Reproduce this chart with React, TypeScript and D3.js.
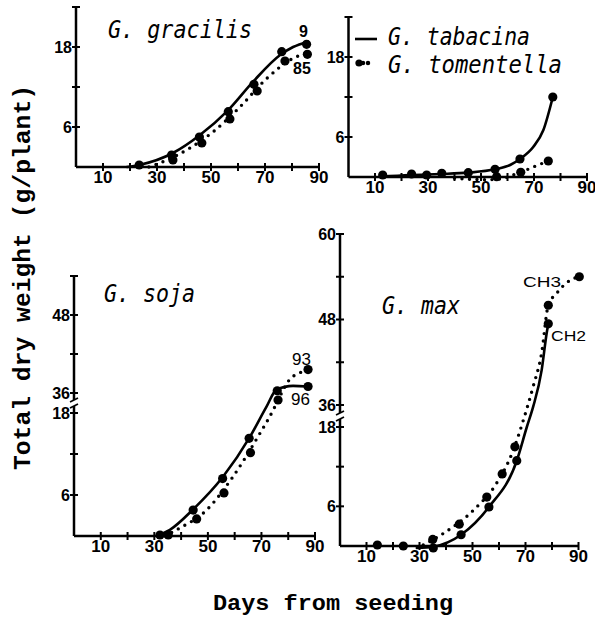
import React from 'react';
import * as d3 from 'd3';

// x axis (days from seeding)
const dayTicks = [10, 20, 30, 40, 50, 60, 70, 80, 90];
const dayLabels = [10, 30, 50, 70, 90];

// G. gracilis: line 9 (solid) and line 85 (dotted)
const gracilisDays9 = [23.4, 35.4, 45.7, 56.4, 65.9, 76.2, 85.4];
const gracilisWt9 = [0.3, 1.8, 4.5, 8.3, 12.4, 17.3, 18.4];
const gracilisDays85 = [35.9, 46.6, 57, 67.1, 77.4, 85.7];
const gracilisWt85 = [1.05, 3.6, 7.2, 11.4, 15.9, 16.9];
const gracilisFitDays9 = [18.9, 23.4, 35.9, 45.9, 56.3, 65.6, 75.6, 80.4, 85.9];
const gracilisFit9 = [0, 0.3, 2.1, 4.8, 8.5, 12.8, 16.8, 18, 18.8];
const gracilisFitDays85 = [27, 31.1, 42.2, 50.7, 60.7, 70.7, 80.4, 85.6];
const gracilisFit85 = [0, 0.6, 2.85, 5.25, 9, 13.3, 16.3, 17.1];

// G. tabacina (solid) and G. tomentella (dotted)
const tabacinaDays = [12.9, 23.8, 29.5, 35.2, 45.2, 55.3, 64.7, 77.1];
const tabacinaWt = [0.3, 0.45, 0.3, 0.55, 0.65, 1.15, 2.7, 12.0];
const tabacinaFitDays = [11.9, 23.2, 34.5, 45.2, 55.3, 61, 64.7, 69.7, 73.5, 77.1];
const tabacinaFit = [0.05, 0.3, 0.45, 0.65, 1.15, 1.8, 2.7, 4.5, 7, 12];
const tomentellaDays = [55.9, 65, 75.4];
const tomentellaWt = [0.05, 0.7, 2.4];
const tomentellaFitDays = [40, 47, 53, 58.4, 62.2, 65, 69.7, 75.4];
const tomentellaFit = [-0.2, -0.35, -0.4, -0.2, 0.3, 0.7, 1.5, 2.4];

// G. soja: line 96 (solid) and line 93 (dotted)
const sojaDays96 = [32.1, 44.5, 55.5, 65.4, 75.9, 87.4];
const sojaWt96 = [0.15, 3.8, 8.4, 14.3, 36.35, 37];
const sojaDays93 = [35.2, 45.8, 56, 65.9, 76.2, 87.4];
const sojaWt93 = [0.15, 2.5, 6.3, 12.2, 29.7, 39.6];
const sojaFitDays96 = [30.9, 35.8, 44.5, 55.7, 65.7, 71.9, 75.6, 81.8, 87.4];
const sojaFit96 = [0, 0.9, 3.9, 8.7, 14.5, 23.7, 36.5, 37.1, 37];
const sojaFitDays93 = [34, 38.3, 49.5, 59.4, 69.4, 74.4, 76.2, 80.6, 84.3, 87.4];
const sojaFit93 = [0, 0.9, 3.8, 8.7, 15, 20.7, 29.7, 38.1, 39.1, 39.6];

// G. max: CH2 (solid) and CH3 (dotted)
const maxDaysCH2 = [14.1, 23.9, 35.2, 45.7, 56.2, 66.7, 78.6];
const maxWtCH2 = [0.15, 0, -0.3, 1.7, 5.9, 12.9, 47.4];
const maxDaysCH3 = [35, 45, 55.4, 61.2, 66, 78.6, 90.3];
const maxWtCH3 = [1.0, 3.3, 7.4, 10.9, 15, 50, 54];
const maxFitDaysCH2 = [29, 35.2, 45.7, 56.2, 66.7, 70.5, 72.9, 76.1, 78, 78.6];
const maxFitCH2 = [-0.3, -0.1, 1.7, 5.9, 12.9, 18, 34.6, 40.9, 46.1, 47.4];
const maxFitDaysCH3 = [31.4, 39, 50.3, 59.1, 65.4, 69.2, 72.9, 76.1, 78.6, 81.8, 86.8, 90.3];
const maxFitCH3 = [0.15, 1.9, 5.4, 9.5, 14.5, 23.7, 38.6, 43.3, 50, 51.7, 53.5, 54];

const tickFont = '"Liberation Sans", Arial, sans-serif';
const titleFont = '"DejaVu Sans Mono", monospace';
const axisFont = '"Liberation Mono", "Courier New", monospace';

type Series = { days: number[]; wt: number[]; fitDays: number[]; fit: number[]; dotted: boolean };
type Label = { text: string; x: number; y: number; size: number; bold?: boolean; len?: number };
type PanelCfg = {
  x0: number; x90: number;
  yDomain: number[]; yRange: number[];
  yTicks: number[]; yLabels: number[];
  broken: boolean;
  title: { text: string; x: number; y: number; len: number };
  series: Series[];
  labels: Label[];
};

const zip = (a: number[], b: number[]) => a.map((d, i) => [d, b[i]] as [number, number]);

const panels: PanelCfg[] = [
  {
    x0: 76, x90: 319, yDomain: [0, 24], yRange: [167, 7],
    yTicks: [6, 12, 18, 24], yLabels: [6, 18], broken: false,
    title: { text: 'G. gracilis', x: 108, y: 38, len: 144 },
    series: [
      { days: gracilisDays9, wt: gracilisWt9, fitDays: gracilisFitDays9, fit: gracilisFit9, dotted: false },
      { days: gracilisDays85, wt: gracilisWt85, fitDays: gracilisFitDays85, fit: gracilisFit85, dotted: true },
    ],
    labels: [
      { text: '9', x: 299, y: 37, size: 16, bold: true },
      { text: '85', x: 293, y: 74, size: 16, bold: true },
    ],
  },
  {
    x0: 348.5, x90: 587, yDomain: [0, 24], yRange: [177, 17],
    yTicks: [6, 12, 18, 24], yLabels: [6, 18], broken: false,
    title: { text: '', x: 0, y: 0, len: 0 },
    series: [
      { days: tabacinaDays, wt: tabacinaWt, fitDays: tabacinaFitDays, fit: tabacinaFit, dotted: false },
      { days: tomentellaDays, wt: tomentellaWt, fitDays: tomentellaFitDays, fit: tomentellaFit, dotted: true },
    ],
    labels: [],
  },
  {
    x0: 74, x90: 315, yDomain: [0, 18, 36, 54], yRange: [536, 413, 393, 276],
    yTicks: [6, 12, 18, 36, 42, 48, 54], yLabels: [6, 18, 36, 48], broken: true,
    title: { text: 'G. soja', x: 104, y: 301.5, len: 91 },
    series: [
      { days: sojaDays96, wt: sojaWt96, fitDays: sojaFitDays96, fit: sojaFit96, dotted: false },
      { days: sojaDays93, wt: sojaWt93, fitDays: sojaFitDays93, fit: sojaFit93, dotted: true },
    ],
    labels: [
      { text: '93', x: 292, y: 365, size: 17 },
      { text: '96', x: 291, y: 405, size: 17 },
    ],
  },
  {
    x0: 340, x90: 578.5, yDomain: [0, 18, 36, 60], yRange: [546, 427, 405, 234],
    yTicks: [6, 12, 18, 36, 42, 48, 54, 60], yLabels: [6, 18, 36, 48, 60], broken: true,
    title: { text: 'G. max', x: 382, y: 314, len: 78 },
    series: [
      { days: maxDaysCH2, wt: maxWtCH2, fitDays: maxFitDaysCH2, fit: maxFitCH2, dotted: false },
      { days: maxDaysCH3, wt: maxWtCH3, fitDays: maxFitDaysCH3, fit: maxFitCH3, dotted: true },
    ],
    labels: [
      { text: 'CH3', x: 523, y: 287, size: 15, len: 38 },
      { text: 'CH2', x: 551, y: 341, size: 15, len: 35 },
    ],
  },
];

const Panel = ({ cfg }: { cfg: PanelCfg }) => {
  const x = d3.scaleLinear().domain([0, 90]).range([cfg.x0, cfg.x90]);
  const y = d3.scaleLinear().domain(cfg.yDomain).range(cfg.yRange);
  const ax = x(0);
  const y0 = y(0);
  const yTop = y(cfg.yDomain[cfg.yDomain.length - 1]);
  const line = d3.line<[number, number]>()
    .x(d => x(d[0]))
    .y(d => y(d[1]))
    .curve(d3.curveMonotoneX);

  // gap in the y axis between 18 and 36
  const gapLow = cfg.broken ? (y(18) + y(36)) / 2 + 3 : 0;
  const gapHigh = cfg.broken ? (y(18) + y(36)) / 2 - 3 : 0;

  return (
    <g>
      {/* x axis */}
      <line x1={ax} x2={x(90)} y1={y0} y2={y0} stroke="#000" strokeWidth={2.5} />
      {dayTicks.map(t => (
        <line key={t} x1={x(t)} x2={x(t)} y1={y0 - 4} y2={y0 + 4} stroke="#000" strokeWidth={2} />
      ))}
      {dayLabels.map(t => (
        <text key={t} x={x(t)} y={y0 + 16} textAnchor="middle" fontFamily={tickFont}
          fontWeight="bold" fontSize={17}>{t}</text>
      ))}

      {/* y axis */}
      {cfg.broken ? (
        <g stroke="#000" strokeWidth={2.5} fill="none">
          <line x1={ax} x2={ax} y1={y0} y2={gapLow} />
          <line x1={ax} x2={ax} y1={gapHigh} y2={yTop} />
          <line x1={ax - 4} x2={ax + 4} y1={gapLow + 2} y2={gapLow - 2} strokeWidth={1.8} />
          <line x1={ax - 4} x2={ax + 4} y1={gapHigh + 2} y2={gapHigh - 2} strokeWidth={1.8} />
        </g>
      ) : (
        <line x1={ax} x2={ax} y1={y0} y2={yTop} stroke="#000" strokeWidth={2.5} />
      )}
      {cfg.yTicks.map(t => (
        <line key={t} x1={ax - 4} x2={ax + 4} y1={y(t)} y2={y(t)} stroke="#000" strokeWidth={2} />
      ))}
      {cfg.yLabels.map(t => (
        <text key={t} x={ax - 4} y={y(t)} dy="0.36em" textAnchor="end" fontFamily={tickFont}
          fontWeight="bold" fontSize={16}>{t}</text>
      ))}

      {/* fitted curves */}
      {cfg.series.map((s, i) => (
        <path key={`c${i}`} d={line(zip(s.fitDays, s.fit)) || ''} fill="none" stroke="#000"
          strokeWidth={s.dotted ? 3.4 : 2.6}
          strokeDasharray={s.dotted ? '0 7.5' : undefined}
          strokeLinecap="round" strokeLinejoin="round" />
      ))}

      {/* observations */}
      {cfg.series.map((s, i) => (
        <g key={`p${i}`}>
          {s.days.map((d, j) => (
            <circle key={j} cx={x(d)} cy={y(s.wt[j])} r={4.6} fill="#000" />
          ))}
        </g>
      ))}

      {cfg.title.text && (
        <text x={cfg.title.x} y={cfg.title.y} fontFamily={titleFont} fontStyle="italic"
          fontSize={24} textLength={cfg.title.len} lengthAdjust="spacingAndGlyphs"
          style={{ whiteSpace: 'pre' }}>{cfg.title.text}</text>
      )}
      {cfg.labels.map((l, i) => (
        <text key={i} x={l.x} y={l.y} fontFamily={tickFont} fontSize={l.size}
          fontWeight={l.bold ? 'bold' : 'normal'}
          textLength={l.len} lengthAdjust={l.len ? 'spacingAndGlyphs' : undefined}>{l.text}</text>
      ))}
    </g>
  );
};

const App = () => {
  return (
    <svg width={595} height={631} viewBox="0 0 595 631"
      style={{ position: 'absolute', left: 0, top: 0, background: '#fff' }}>
      {panels.map((p, i) => <Panel key={i} cfg={p} />)}

      {/* legend (top right panel) */}
      <line x1={355} x2={377} y1={39} y2={39} stroke="#000" strokeWidth={2.6} />
      <text x={388} y={45} fontFamily={titleFont} fontStyle="italic" fontSize={24}
        textLength={142} lengthAdjust="spacingAndGlyphs" style={{ whiteSpace: 'pre' }}>G. tabacina</text>
      <line x1={358} x2={373} y1={63} y2={63} stroke="#000" strokeWidth={4.5}
        strokeDasharray="0 5" strokeLinecap="round" />
      <circle cx={359} cy={63} r={3.6} fill="#000" />
      <text x={388} y={73} fontFamily={titleFont} fontStyle="italic" fontSize={24}
        textLength={174} lengthAdjust="spacingAndGlyphs" style={{ whiteSpace: 'pre' }}>G. tomentella</text>

      {/* axis titles */}
      <text transform="translate(30,277.5) rotate(-90)" textAnchor="middle" fontFamily={axisFont}
        fontWeight="bold" fontSize={23} textLength={385} lengthAdjust="spacingAndGlyphs"
        style={{ whiteSpace: 'pre' }}>Total dry weight (g/plant)</text>
      <text x={333} y={610} textAnchor="middle" fontFamily={axisFont} fontWeight="bold"
        fontSize={22} textLength={240} lengthAdjust="spacingAndGlyphs"
        style={{ whiteSpace: 'pre' }}>Days from seeding</text>
    </svg>
  );
};

export default App;
